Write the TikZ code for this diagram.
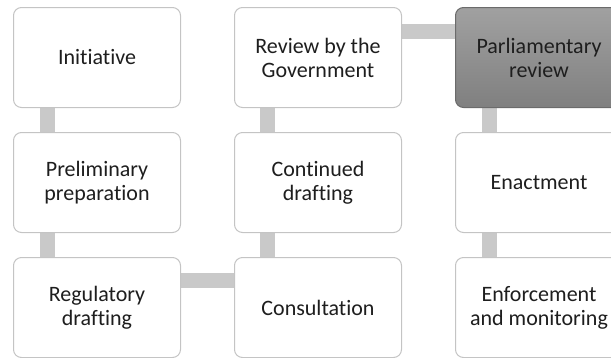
\documentclass[tikz,border=0pt]{standalone}
\usepackage{fontspec}
\setmainfont{Carlito}[RawFeature={-liga;-dlig;-clig}]
\usetikzlibrary{backgrounds}
\definecolor{boxline}{HTML}{C4C4C4}
\definecolor{connfill}{HTML}{C9C9C9}
\definecolor{txt}{HTML}{1E1E1E}
\begin{document}
\begin{tikzpicture}[x=1pt,y=1pt,
  stepbox/.style={draw=boxline, line width=1pt, fill=white, rounded corners=8pt,
    minimum width=167pt, minimum height=100pt, inner sep=0pt, align=center,
    text=txt, font=\fontsize{22}{24}\selectfont, anchor=north west},
  darkbox/.style={stepbox, draw=black!58, top color=black!37, bottom color=black!50},
  conn/.style={draw=connfill, line width=15pt}]
\useasboundingbox (0,0) rectangle (611,-357);
\clip (0,0) rectangle (611,-357);
\node[stepbox] (a1) at (13,-7) {Initiative};
\node[stepbox] (a2) at (13,-132) {Preliminary\\preparation};
\node[stepbox] (a3) at (13,-257) {Regulatory\\drafting};
\node[stepbox] (b1) at (234,-7) {Review by the\\Government};
\node[stepbox] (b2) at (234,-132) {Continued\\drafting};
\node[stepbox] (b3) at (234,-257) {Consultation};
\node[darkbox] (c1) at (455,-7) {Parliamentary\\review};
\node[stepbox] (c2) at (455,-132) {Enactment};
\node[stepbox] (c3) at (455,-257) {Enforcement\\and monitoring};
\begin{pgfonlayer}{background}
\draw[conn] ([xshift=34.5pt]a1.south west) -- ([xshift=34.5pt]a2.north west);
\draw[conn] ([xshift=34.5pt]a2.south west) -- ([xshift=34.5pt]a3.north west);
\draw[conn] ([yshift=-23.5pt]a3.north east) -- ([yshift=-23.5pt]b3.north west);
\draw[conn] ([xshift=33.5pt]b3.north west) -- ([xshift=33.5pt]b2.south west);
\draw[conn] ([xshift=33.5pt]b2.north west) -- ([xshift=33.5pt]b1.south west);
\draw[conn] ([yshift=-24.5pt]b1.north east) -- ([yshift=-24.5pt]c1.north west);
\draw[conn] ([xshift=34.5pt]c1.south west) -- ([xshift=34.5pt]c2.north west);
\draw[conn] ([xshift=34.5pt]c2.south west) -- ([xshift=34.5pt]c3.north west);
\end{pgfonlayer}
\end{tikzpicture}
\end{document}
